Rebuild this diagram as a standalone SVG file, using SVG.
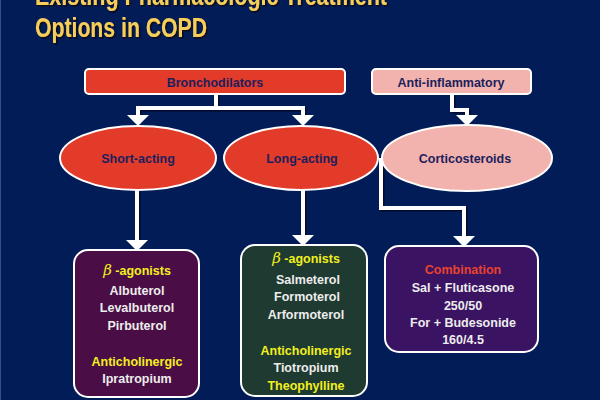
<svg xmlns="http://www.w3.org/2000/svg" width="600" height="400" viewBox="0 0 600 400">
<defs>
<style>
.t{font-family:"Liberation Sans",Arial,sans-serif;font-weight:bold;text-anchor:middle}
.title{font-family:"Liberation Sans",Arial,sans-serif;font-weight:bold;font-size:27px;fill:#F7CE5B;filter:url(#tsh)}
.navy{fill:#1C1F5C;font-size:12.5px}
.wh{fill:#EDEDED;font-size:12.5px}
.yl{fill:#F2F01E;font-size:12.5px}
.rd{fill:#E8432E;font-size:12.5px}
.red{fill:#E23B2A;stroke:#FFFFFF;stroke-width:2}
.pink{fill:#F2B2AD;stroke:#FFFFFF;stroke-width:2}
.conn{fill:none;stroke:#FFFFFF;stroke-width:4;stroke-linejoin:miter}
.sh{fill:none;stroke:#050A2A;stroke-width:4;stroke-linejoin:miter}
.beta{font-family:"DejaVu Serif","Liberation Serif",serif;font-style:italic;font-weight:normal;font-size:15px}
</style>
<filter id="tsh" x="-5%" y="-30%" width="110%" height="160%">
<feDropShadow dx="1.5" dy="1.5" stdDeviation="0.3" flood-color="#080818" flood-opacity="1"/>
</filter>
</defs>
<rect x="0" y="0" width="600" height="400" fill="#021C58"/>
<rect x="0" y="0" width="1" height="400" fill="#3C4C84"/>

<g id="title">
<text class="title" x="35" y="5" textLength="352" lengthAdjust="spacingAndGlyphs">Existing Pharmacologic Treatment</text>
<text class="title" x="35" y="37" textLength="172" lengthAdjust="spacingAndGlyphs">Options in COPD</text>
</g>

<g id="connectors">
<g transform="translate(1.5,1.5)">
<path class="sh" d="M216,94 V108 H138 V116"/>
<path class="sh" d="M216,108 H303 V116"/>
<path class="sh" d="M452,94 V110 H467 V116"/>
<path class="sh" d="M137,190 V241"/>
<path class="sh" d="M303,190 V236"/>
<path class="sh" d="M381,158 V208 H464 V237"/>
</g>
<path class="conn" d="M216,94 V108 H138 V116"/>
<path class="conn" d="M216,108 H303 V116"/>
<path class="conn" d="M452,94 V110 H467 V116"/>
<path class="conn" d="M137,190 V241"/>
<path class="conn" d="M303,190 V236"/>
<path class="conn" d="M381,158 V208 H464 V237"/>
<polygon points="127,115 149,115 138,126" fill="#FFFFFF"/>
<polygon points="292,115 314,115 303,126" fill="#FFFFFF"/>
<polygon points="456,115 478,115 467,126" fill="#FFFFFF"/>
<polygon points="126,240 148,240 137,251" fill="#FFFFFF"/>
<polygon points="292,235 314,235 303,246" fill="#FFFFFF"/>
<polygon points="453,236 475,236 464,247" fill="#FFFFFF"/>
</g>

<g id="bronchodilators">
<rect class="red" x="85" y="69" width="260" height="25" rx="4"/>
<text class="t navy" x="215" y="87">Bronchodilators</text>
</g>
<g id="anti-inflammatory">
<rect class="pink" x="372" y="69" width="159" height="25" rx="4"/>
<text class="t navy" x="451" y="87">Anti-inflammatory</text>
</g>
<g id="short-acting">
<ellipse class="red" cx="138" cy="158" rx="78" ry="32"/>
<text class="t navy" x="138" y="163">Short-acting</text>
</g>
<g id="long-acting">
<ellipse class="red" cx="301" cy="158" rx="77" ry="32"/>
<text class="t navy" x="302" y="163">Long-acting</text>
</g>
<g id="corticosteroids">
<ellipse class="pink" cx="467" cy="158" rx="85" ry="33"/>
<text class="t navy" x="465" y="163">Corticosteroids</text>
</g>

<g id="short-acting-drugs">
<rect x="74" y="250" width="125" height="147" rx="14" fill="#4A0D45" stroke="#FFFFFF" stroke-width="2"/>
<text class="t yl" x="137" y="275"><tspan class="beta">β</tspan> -agonists</text>
<text class="t wh" x="137" y="295">Albuterol</text>
<text class="t wh" x="137" y="312">Levalbuterol</text>
<text class="t wh" x="137" y="330">Pirbuterol</text>
<text class="t yl" x="137" y="366">Anticholinergic</text>
<text class="t wh" x="137" y="383">Ipratropium</text>
</g>

<g id="long-acting-drugs">
<rect x="241" y="245" width="126" height="151" rx="14" fill="#1F3A30" stroke="#FFFFFF" stroke-width="2"/>
<text class="t yl" x="306" y="263"><tspan class="beta">β</tspan> -agonists</text>
<text class="t wh" x="308" y="284">Salmeterol</text>
<text class="t wh" x="307" y="301">Formoterol</text>
<text class="t wh" x="306" y="319">Arformoterol</text>
<text class="t yl" x="306" y="355">Anticholinergic</text>
<text class="t wh" x="306" y="372">Tiotropium</text>
<text class="t yl" x="306" y="390">Theophylline</text>
</g>

<g id="combination">
<rect x="385" y="246" width="153" height="106" rx="14" fill="#3B1363" stroke="#FFFFFF" stroke-width="2"/>
<text class="t rd" x="463" y="274">Combination</text>
<text class="t wh" x="463" y="292">Sal + Fluticasone</text>
<text class="t wh" x="463" y="310">250/50</text>
<text class="t wh" x="463" y="327">For + Budesonide</text>
<text class="t wh" x="463" y="344">160/4.5</text>
</g>
</svg>
